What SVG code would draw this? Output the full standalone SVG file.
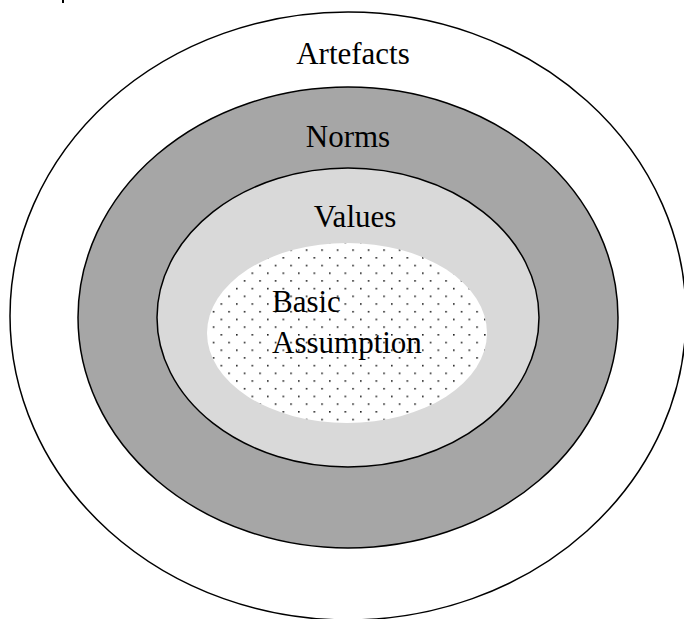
<svg xmlns="http://www.w3.org/2000/svg" width="684" height="619" viewBox="0 0 684 619">
  <style>
    .ring { stroke: #000; stroke-width: 1.5; }
    .lbl { font-family: "Liberation Serif", "Times New Roman", serif; font-size: 31px; fill: #000; }
  </style>
  <defs>
    <pattern id="dots" patternUnits="userSpaceOnUse" x="383.25" y="372.5" width="15.5" height="15.4">
      <rect x="0" y="0" width="1.6" height="1.6" fill="#222"/>
      <rect x="7.75" y="7.7" width="1.6" height="1.6" fill="#222"/>
    </pattern>
  </defs>
  <rect x="0" y="0" width="684" height="619" fill="#fff"/>
  <rect x="62" y="0" width="2" height="3" fill="#000"/>
  <g id="artefacts">
    <ellipse class="ring" cx="348" cy="316" rx="338" ry="304" fill="#fff"/>
    <text class="lbl" x="353" y="64" text-anchor="middle">Artefacts</text>
  </g>
  <g id="norms">
    <ellipse class="ring" cx="348" cy="317.5" rx="270" ry="230.5" fill="#a6a6a6"/>
    <text class="lbl" x="348" y="147" text-anchor="middle">Norms</text>
  </g>
  <g id="values">
    <ellipse class="ring" cx="348" cy="317.5" rx="191" ry="149.5" fill="#d9d9d9"/>
    <text class="lbl" x="355" y="227" text-anchor="middle">Values</text>
  </g>
  <g id="basic-assumption">
    <ellipse cx="347" cy="333" rx="140" ry="90" fill="#fff"/>
    <ellipse cx="347" cy="333" rx="140" ry="90" fill="url(#dots)"/>
    <text class="lbl" x="272" y="312">Basic</text>
    <text class="lbl" x="272" y="353">Assumption</text>
  </g>
  <g id="connectors"/>
</svg>
